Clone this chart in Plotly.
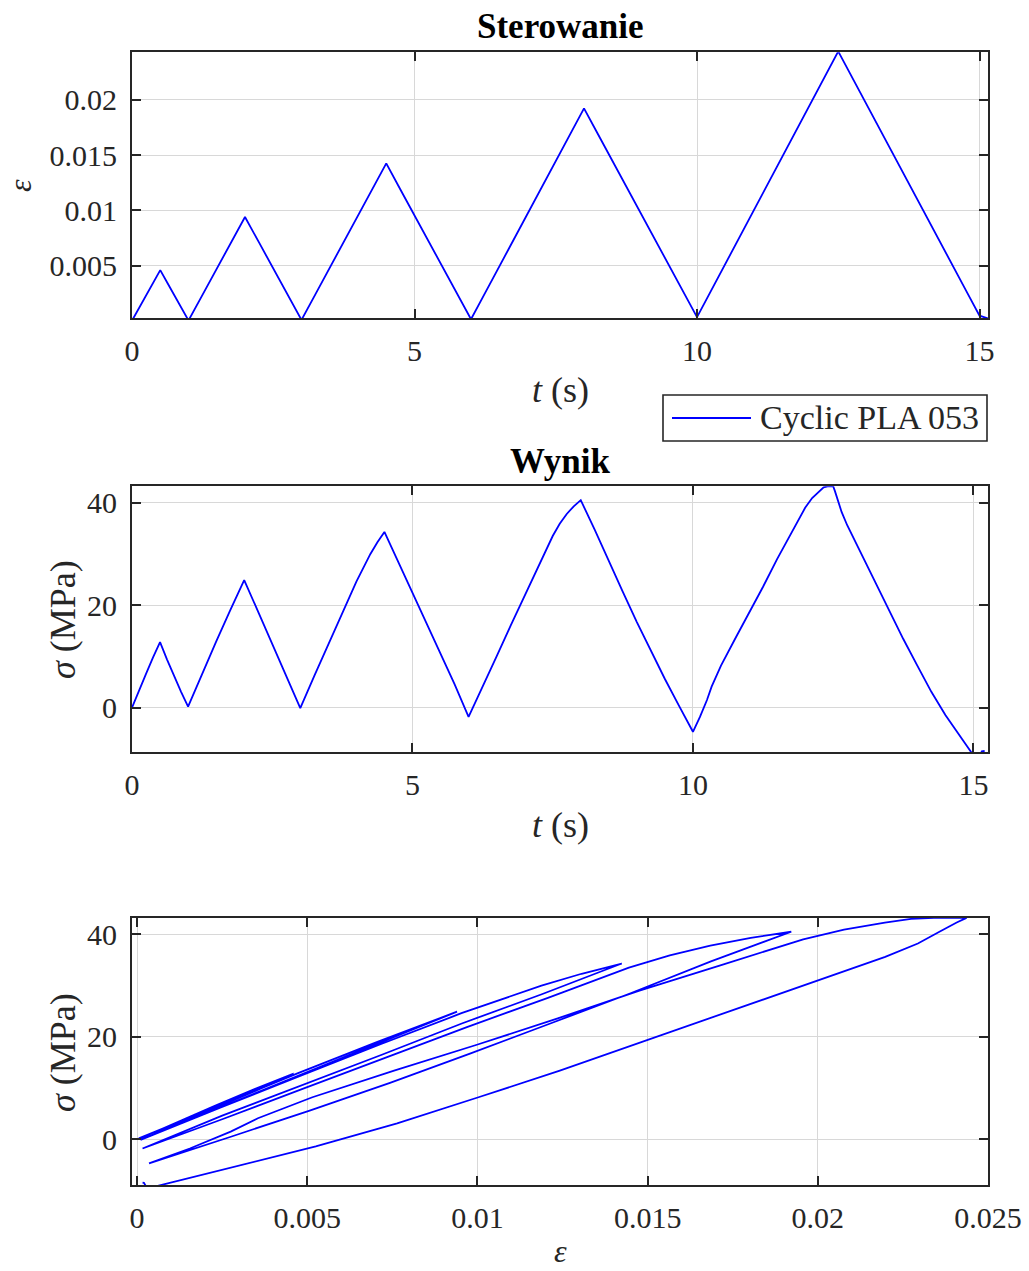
import plotly.graph_objects as go

W, H = 1029, 1271

# ---- data ----
time_s = [0, 0.125, 0.25, 0.375, 0.5, 0.625, 0.75, 0.875, 1.0,
          1.25, 1.5, 1.75, 2.0, 2.25, 2.5, 2.75, 3.0,
          3.25, 3.5, 3.75, 4.0, 4.25, 4.375, 4.5, 4.75, 5.0, 5.25, 5.5, 5.75, 6.0,
          6.25, 6.5, 6.75, 7.0, 7.25, 7.5, 7.625, 7.75, 7.875, 8.0,
          8.25, 8.5, 8.75, 9.0, 9.25, 9.5, 9.75, 10.0,
          10.125, 10.25, 10.333, 10.5, 10.75, 11.0, 11.25, 11.5, 11.75, 12.0, 12.125, 12.25, 12.33, 12.4, 12.5,
          12.53, 12.58, 12.65, 12.75, 12.875, 13.0, 13.25, 13.5, 13.75, 14.0, 14.25, 14.5, 14.75, 15.0,
          15.08, 15.15, 15.2]

strain = [0.00003, 0.00118, 0.0023, 0.00345, 0.0046, 0.00346, 0.00232, 0.00119, 0.00005,
          0.00239, 0.00473, 0.00706, 0.0094, 0.00708, 0.00475, 0.00243, 0.0001,
          0.00246, 0.00481, 0.00717, 0.00953, 0.01188, 0.01306, 0.01424, 0.01189, 0.00954, 0.00719, 0.00485, 0.0025, 0.00016,
          0.00254, 0.00492, 0.0073, 0.00969, 0.01207, 0.01445, 0.01565, 0.01684, 0.01803, 0.01922,
          0.01686, 0.0145, 0.01214, 0.00978, 0.00743, 0.00507, 0.00271, 0.00035,
          0.00155, 0.00275, 0.00355, 0.00515, 0.00755, 0.00996, 0.01236, 0.01476, 0.01716, 0.01957, 0.02077, 0.02197, 0.02274, 0.02341, 0.02437,
          0.02408, 0.0236, 0.02294, 0.02198, 0.02078, 0.01959, 0.0172, 0.01481, 0.01242, 0.01003, 0.00764, 0.00525, 0.00286, 0.00048,
          0.00035, 0.0002, 0.00016]

stress_mpa = [0.0, 3.4, 6.6, 9.8, 12.8, 9.4, 6.2, 3.1, 0.2,
              6.6, 12.9, 19.0, 24.9, 18.7, 12.4, 6.2, -0.1,
              6.2, 12.4, 18.6, 24.6, 30.0, 32.3, 34.3, 28.3, 22.6, 16.5, 10.6, 4.6, -1.8,
              4.0, 10.0, 16.0, 21.9, 27.6, 33.5, 35.9, 37.8, 39.3, 40.5,
              34.7, 28.5, 22.6, 16.7, 11.0, 5.6, 0.4, -4.7,
              -1.8, 1.5, 4.1, 8.2, 13.4, 18.4, 23.6, 29.0, 34.0, 39.0, 40.9, 42.3, 43.0, 43.2, 43.2,
              42.3, 40.6, 38.2, 35.6, 32.8, 30.1, 24.5, 18.9, 13.4, 8.2, 3.1, -1.4, -5.4, -9.3,
              -10.2, -8.5, -8.45]

series_name = "Cyclic PLA 053"
time_ticks = [0, 5, 10, 15]
strain_ticks_top = [0.005, 0.01, 0.015, 0.02]
strain_ticks_top_text = ["0.005", "0.01", "0.015", "0.02"]
strain_ticks_bottom = [0, 0.005, 0.01, 0.015, 0.02, 0.025]
strain_ticks_bottom_text = ["0", "0.005", "0.01", "0.015", "0.02", "0.025"]
stress_ticks = [0, 20, 40]

# ---- styling ----
BLUE = "#0000FF"
AX = "#262626"
FONT = "Liberation Serif"
TICKFONT = dict(family=FONT, size=30, color=AX)


def px(x):
    return x / W


def py(y):
    return 1 - y / H


fig = go.Figure()
line = dict(color=BLUE, width=1.8)
fig.add_trace(go.Scatter(x=time_s, y=strain, mode="lines", line=line, name=series_name,
                         xaxis="x", yaxis="y", showlegend=False))
fig.add_trace(go.Scatter(x=time_s, y=stress_mpa, mode="lines", line=line, name=series_name,
                         xaxis="x2", yaxis="y2", showlegend=False))
fig.add_trace(go.Scatter(x=strain, y=stress_mpa, mode="lines", line=line, name=series_name,
                         xaxis="x3", yaxis="y3", showlegend=False))

common = dict(showline=True, linecolor=AX, linewidth=1.8, mirror="ticks",
              ticks="inside", ticklen=9, tickwidth=1.6, tickcolor=AX,
              showgrid=True, gridcolor="#d8d8d8", gridwidth=1.2, zeroline=False,
              tickfont=TICKFONT, automargin=False)

xdom = [px(132), px(988)]
fig.update_layout(
    width=W, height=H,
    margin=dict(l=0, r=0, t=0, b=0),
    paper_bgcolor="white", plot_bgcolor="white",
    showlegend=False,
    xaxis=dict(domain=xdom, anchor="y", range=[0, 15.15], tickvals=time_ticks,
               ticklabelstandoff=5, **common),
    yaxis=dict(domain=[py(318.3), py(52.3)], anchor="x", range=[0.000247, 0.024283],
               tickvals=strain_ticks_top, ticktext=strain_ticks_top_text,
               ticklabelstandoff=7, **common),
    xaxis2=dict(domain=xdom, anchor="y2", range=[0, 15.26], tickvals=time_ticks,
                ticklabelstandoff=5, **common),
    yaxis2=dict(domain=[py(752.3), py(486.3)], anchor="x2", range=[-8.7, 43.2],
                tickvals=stress_ticks, ticklabelstandoff=7, **common),
    xaxis3=dict(domain=xdom, anchor="y3", range=[-0.00015, 0.025],
                tickvals=strain_ticks_bottom, ticktext=strain_ticks_bottom_text,
                ticklabelstandoff=5, **common),
    yaxis3=dict(domain=[py(1185.3), py(917.7)], anchor="x3", range=[-8.98, 43.24],
                tickvals=stress_ticks, ticklabelstandoff=7, **common),
)

LBL = dict(family=FONT, size=36, color=AX)
TTL = dict(family=FONT, size=35, color="black")
ann = [
    dict(text="<b>Sterowanie</b>", x=px(560), y=py(27), font=TTL),
    dict(text="<b>Wynik</b>", x=px(560), y=py(461), font=TTL),
    dict(text="<i>t</i> (s)", x=px(560), y=py(390), font=LBL),
    dict(text="<i>t</i> (s)", x=px(560), y=py(825), font=LBL),
    dict(text="<i>ε</i>", x=px(560), y=py(1251), font=dict(family=FONT, size=32, color=AX)),
    dict(text="<i>ε</i>", x=px(20), y=py(186), font=dict(family=FONT, size=32, color=AX),
         textangle=-90),
    dict(text="<i>σ</i> (MPa)", x=px(63), y=py(620), font=LBL, textangle=-90),
    dict(text="<i>σ</i> (MPa)", x=px(63), y=py(1053), font=LBL, textangle=-90),
    dict(text=series_name, x=px(758), y=py(417), xanchor="left",
         font=dict(family=FONT, size=34, color=AX)),
]
for a in ann:
    a.setdefault("xanchor", "center")
    a.setdefault("yanchor", "middle")
    a.update(xref="paper", yref="paper", showarrow=False)
fig.update_layout(annotations=ann)

# legend box (drawn to match the reference's long sample line)
fig.update_layout(shapes=[
    dict(type="rect", xref="paper", yref="paper", x0=px(663), x1=px(987), y0=py(441), y1=py(395),
         line=dict(color=AX, width=1.6), fillcolor="white", layer="above"),
    dict(type="line", xref="paper", yref="paper", x0=px(672), x1=px(751), y0=py(418), y1=py(418),
         line=dict(color=BLUE, width=1.8), layer="above"),
])

fig.write_html("out.html")
